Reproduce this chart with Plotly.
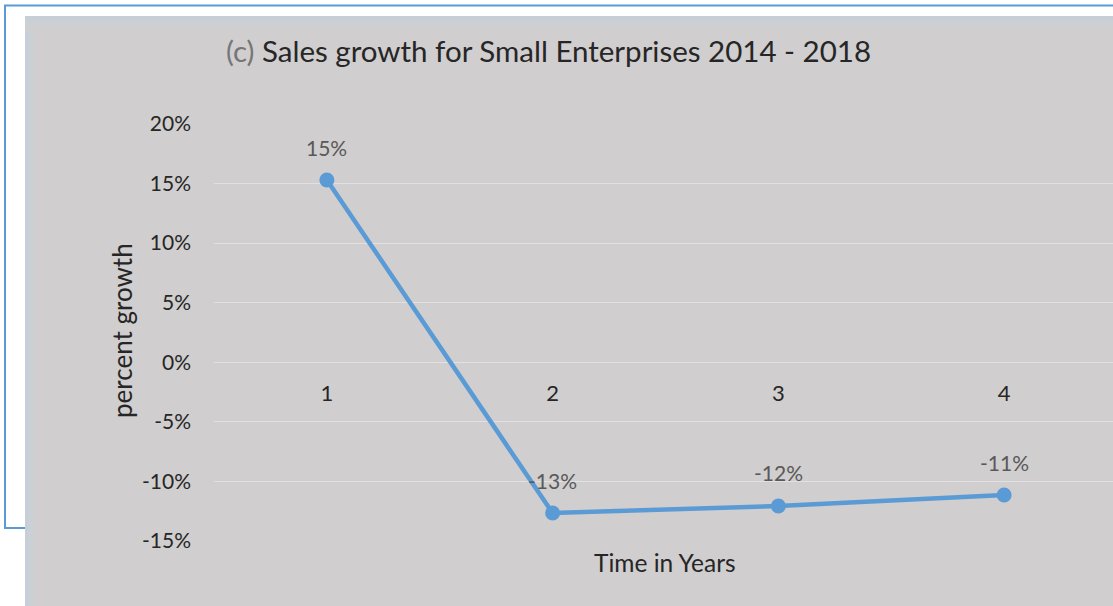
import plotly.graph_objects as go

# ---- data ----
years = [1, 2, 3, 4]
growth = [0.153, -0.1265, -0.1206, -0.1114]
y_ticks = [-0.15, -0.10, -0.05, 0.0, 0.05, 0.10, 0.15, 0.20]
y_tick_text = [f"{round(v * 100):d}%" for v in y_ticks]
title_prefix = "(c)"
title_main = "Sales growth for Small Enterprises 2014 - 2018"
x_title = "Time in Years"
y_title = "percent growth"

W, H = 1113, 606
L, R, T, B = 214, 0, 124, 65
PW, PH = W - L - R, H - T - B


def px(xp):
    return (xp - L) / PW


def py(yp):
    return (H - B - yp) / PH


BG = "#d0cece"
BLUE = "#5b9bd5"
GRID = "#e2e0e0"
FONT = "Lato, 'Open Sans', sans-serif"
DARK = "#262626"

fig = go.Figure()
fig.add_trace(go.Scatter(
    x=years, y=growth, mode="lines+markers",
    line=dict(color=BLUE, width=4.5),
    marker=dict(color=BLUE, size=15),
    hoverinfo="skip", showlegend=False,
))

shapes = []
# grey chart background
shapes.append(dict(type="rect", xref="paper", yref="paper", layer="below",
                   x0=px(25), x1=px(1113), y0=py(606), y1=py(16),
                   fillcolor=BG, line=dict(width=0)))
# soft gradient on top and left edges
grad = ["#c6ced8", "#c8cfd7", "#cad0d6", "#cbd0d5", "#cdcfd3", "#cecfd1", "#cfcfd0"]
for i, c in enumerate(grad):
    shapes.append(dict(type="rect", xref="paper", yref="paper", layer="below",
                       x0=px(25), x1=px(1113), y0=py(16 + 2 * i + 2), y1=py(16 + 2 * i),
                       fillcolor=c, line=dict(width=0)))
for i, c in enumerate(grad[:5]):
    shapes.append(dict(type="rect", xref="paper", yref="paper", layer="below",
                       x0=px(25 + 2 * i), x1=px(25 + 2 * i + 2), y0=py(606), y1=py(16 + 2 * 7),
                       fillcolor=c, line=dict(width=0)))
# blue frame
shapes.append(dict(type="path", xref="paper", yref="paper", layer="above",
                   path=f"M {px(1113)},{py(5.5)} L {px(5)},{py(5.5)} L {px(5)},{py(528)} L {px(25)},{py(528)}",
                   line=dict(color=BLUE, width=2)))

annotations = []
for xv, yv in zip(years, growth):
    annotations.append(dict(x=xv, y=yv, xref="x", yref="y", text=f"{round(yv * 100):d}%",
                            showarrow=False, yshift=33, xanchor="center", yanchor="middle",
                            font=dict(family=FONT, size=21, color="#595959")))
annotations.append(dict(x=px(224), y=py(50), xref="paper", yref="paper", xanchor="left",
                        yanchor="middle", showarrow=False,
                        text=f"<span style='color:#767676'>{title_prefix}</span> {title_main}",
                        font=dict(family=FONT, size=29.5, color=DARK)))
annotations.append(dict(x=px(665), y=py(562), xref="paper", yref="paper", showarrow=False,
                        xanchor="center", yanchor="middle",
                        text=x_title, font=dict(family=FONT, size=24.5, color=DARK)))
annotations.append(dict(x=px(122), y=py(331), xref="paper", yref="paper", showarrow=False,
                        xanchor="center", yanchor="middle",
                        textangle=-90, text=y_title,
                        font=dict(family=FONT, size=26, color=DARK)))

fig.update_layout(
    width=W, height=H,
    margin=dict(l=L, r=R, t=T, b=B, pad=0),
    paper_bgcolor="white",
    plot_bgcolor="rgba(0,0,0,0)",
    shapes=shapes,
    annotations=annotations,
    xaxis=dict(range=[0.5, 0.5 + PW / 225.75], tickvals=years, showgrid=False,
               zeroline=False, showline=False, anchor="free",
               position=py(362.3), ticks="outside", ticklen=11,
               tickcolor="rgba(0,0,0,0)",
               tickfont=dict(family=FONT, size=22, color=DARK)),
    yaxis=dict(range=[-0.15, 0.20], tickvals=y_ticks, ticktext=y_tick_text,
               showgrid=True, gridcolor=GRID, gridwidth=1,
               zeroline=True, zerolinecolor=GRID, zerolinewidth=1,
               showline=False, ticks="", ticklabelstandoff=22,
               tickfont=dict(family=FONT, size=21, color=DARK)),
)

fig.write_html("out.html")
